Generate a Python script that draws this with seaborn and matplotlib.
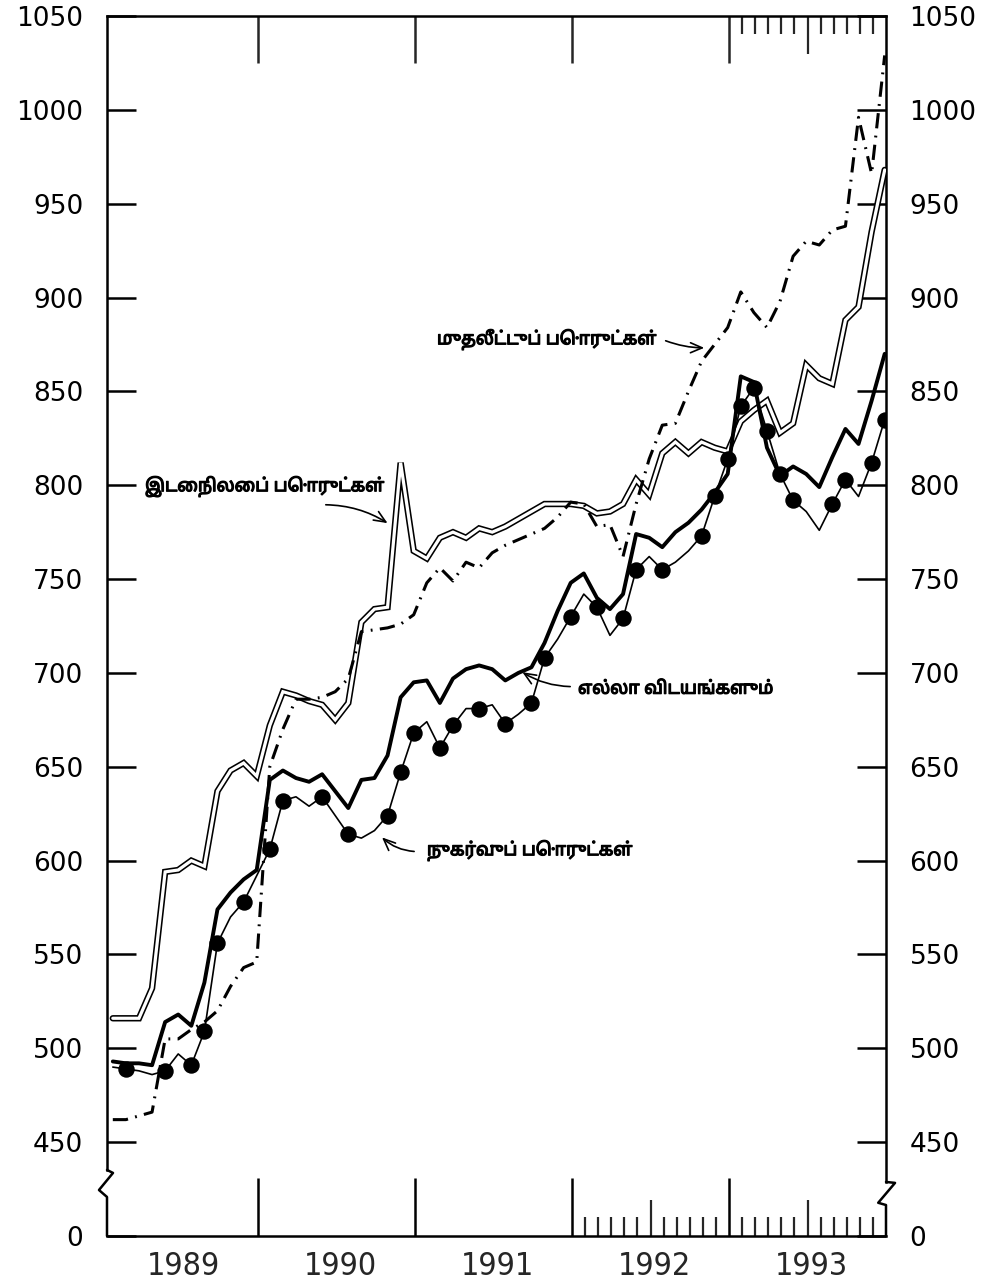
import numpy as np
import pandas as pd
import matplotlib
matplotlib.use("Agg")
import matplotlib.pyplot as plt
import matplotlib.transforms as mtransforms
import matplotlib.patheffects as pe
import seaborn as sns

# ---------------- data ----------------
start_year = 1989
n_months = 60
months = list(range(n_months))

all_items = [493, 492, 492, 491, 514, 518, 512, 535, 574, 583, 590, 595,
             643, 648, 644, 642, 646, 637, 628, 643, 644, 656, 687, 695,
             696, 684, 697, 702, 704, 702, 696, 700, 703, 716, 733, 748,
             753, 740, 734, 742, 774, 772, 767, 775, 780, 787, 796, 806,
             858, 855, 820, 805, 810, 806, 799, 815, 830, 822, 845, 870]

consumer = [490, 489, 488, 486, 488, 497, 491, 509, 556, 570, 578, 592,
            606, 632, 634, 629, 634, 624, 614, 612, 616, 624, 647, 668,
            674, 660, 672, 681, 681, 683, 673, 678, 684, 708, 718, 730,
            742, 735, 720, 729, 755, 762, 755, 759, 765, 773, 794, 814,
            842, 852, 829, 806, 792, 786, 776, 790, 803, 794, 812, 835]

intermediate = [516, 516, 516, 532, 594, 595, 600, 597, 637, 648, 652, 645,
                672, 690, 688, 685, 683, 675, 684, 727, 734, 735, 812, 765,
                761, 772, 775, 772, 777, 775, 778, 782, 786, 790, 790, 790,
                789, 785, 786, 790, 803, 795, 817, 823, 817, 823, 820, 818,
                834, 840, 845, 828, 833, 864, 857, 854, 888, 895, 935, 968]

investment = [462, 462, 464, 466, 505, 505, 510, 514, 520, 533, 543, 546,
              650, 670, 686, 686, 687, 690, 697, 722, 723, 724, 726, 731,
              748, 756, 749, 759, 756, 764, 768, 771, 774, 777, 783, 791,
              790, 778, 779, 762, 790, 814, 832, 833, 850, 866, 875, 884,
              903, 892, 884, 898, 922, 930, 928, 936, 938, 996, 966, 1029]

consumer_dot_months = [1, 4, 6, 7, 8, 10, 12, 13, 16, 18, 21, 22, 23, 25, 26,
                       28, 30, 32, 33, 35, 37, 39, 40, 42, 45, 46, 47, 48, 49,
                       50, 51, 52, 55, 56, 58, 59]

year_labels = ["1989", "1990", "1991", "1992", "1993"]
y_ticks = [400, 450, 500, 550, 600, 650, 700, 750, 800, 850, 900, 950, 1000, 1050]
y_tick_labels = ["0", "450", "500", "550", "600", "650", "700", "750", "800",
                 "850", "900", "950", "1000", "1050"]

label_intermediate = "இடைநிலைப் பொருட்கள்"
label_investment = "முதலீட்டுப் பொருட்கள்"
label_all = "எல்லா விடயங்களும்"
label_consumer = "நுகர்வுப் பொருட்கள்"

# ---------------- style ----------------
sns.set_theme(style="white")
plt.rcParams["font.family"] = ["DejaVu Sans"]
tamil_family = ["Noto Sans Tamil", "DejaVu Sans"]

df = pd.DataFrame({
    "month": months,
    "t": [start_year + (m + 0.9) / 12 for m in months],
    "all": all_items,
    "cons": consumer,
    "inter": intermediate,
    "inv": investment,
})

fig = plt.figure(figsize=(9.96, 12.88), dpi=100)
fig.patch.set_facecolor("white")
ax = fig.add_axes([107 / 996, 1 - 1236 / 1288, (886 - 107) / 996, (1236 - 16) / 1288])
ax.set_facecolor("white")

# intermediate goods: double line
sns.lineplot(data=df, x="t", y="inter", ax=ax, color="black", linewidth=4.6,
             solid_joinstyle="miter", zorder=3)
sns.lineplot(data=df, x="t", y="inter", ax=ax, color="white", linewidth=2.3,
             solid_joinstyle="miter", zorder=3.1)
# investment goods: dash-dot
sns.lineplot(data=df, x="t", y="inv", ax=ax, color="black", linewidth=2.2,
             linestyle=(0, (5, 2.4, 0.6, 2.4)), zorder=4)
# consumer goods: thin line with dots
sns.lineplot(data=df, x="t", y="cons", ax=ax, color="black", linewidth=1.2, zorder=5)
sns.scatterplot(data=df.iloc[consumer_dot_months], x="t", y="cons", ax=ax,
                color="black", s=140, edgecolor="black", linewidth=0, zorder=6)
# all items: thick line
sns.lineplot(data=df, x="t", y="all", ax=ax, color="black", linewidth=2.8, zorder=5.5)

ax.set_xlim(1989.038, 1994.0)
ax.set_ylim(400, 1050)
ax.set_xlabel("")
ax.set_ylabel("")

# spines with axis-break zigzags
for s in ax.spines.values():
    s.set_color("black")
    s.set_linewidth(1.8)
ax.spines["left"].set_bounds(435.2, 1050)
ax.spines["right"].set_bounds(428.8, 1050)

trans = mtransforms.blended_transform_factory(ax.transAxes, ax.transData)
ax.plot([0, 0.0077, -0.0103, 0, 0], [435.2, 433.6, 424.5, 420.8, 400],
        transform=trans, color="black", lw=1.8, clip_on=False, zorder=10)
ax.plot([1, 1.0116, 0.99, 1, 1], [428.8, 428.3, 417.7, 416.5, 400],
        transform=trans, color="black", lw=1.8, clip_on=False, zorder=10)

# y ticks
ax.set_yticks(y_ticks)
ax.set_yticklabels(y_tick_labels)
ax.tick_params(axis="y", which="major", direction="in", length=21, width=1.8,
               labelsize=19, pad=17, left=True, right=True,
               labelleft=True, labelright=True, colors="black")
ax.yaxis.set_minor_locator(matplotlib.ticker.NullLocator())

# x ticks bottom
year_bounds = [1990, 1991, 1992, 1993]
minor_bottom = [1992 + k / 12 for k in range(1, 24) if k not in (6, 12, 18)]
ax.set_xticks(year_bounds)
ax.set_xticks(minor_bottom, minor=True)
ax.tick_params(axis="x", which="major", direction="in", length=42, width=1.8,
               bottom=True, top=False, labelbottom=False, colors="black")
ax.tick_params(axis="x", which="minor", direction="in", length=14, width=1.6,
               bottom=True, top=False)

sec_mid = ax.secondary_xaxis("bottom")
sec_mid.set_xticks([1992.5, 1993.5])
sec_mid.tick_params(direction="in", length=26, width=1.6, labelbottom=False)
sec_mid.spines["bottom"].set_visible(False)

sec_lab = ax.secondary_xaxis("bottom")
sec_lab.set_xticks([y + 0.525 for y in range(1989, 1994)])
sec_lab.set_xticklabels(year_labels)
sec_lab.tick_params(length=0, pad=11, labelsize=23)
for lab in sec_lab.get_xticklabels():
    lab.set_fontstretch("condensed")
sec_lab.spines["bottom"].set_visible(False)

# top ticks
sec_top = ax.secondary_xaxis("top")
sec_top.set_xticks(year_bounds)
sec_top.set_xticks([1993 + k / 12 for k in range(1, 12) if k != 6], minor=True)
sec_top.tick_params(which="major", direction="in", length=34, width=1.8, labeltop=False)
sec_top.tick_params(which="minor", direction="in", length=13, width=1.6)
sec_top.spines["top"].set_visible(False)

sec_top2 = ax.secondary_xaxis("top")
sec_top2.set_xticks([1993.5])
sec_top2.tick_params(direction="in", length=27, width=1.6, labeltop=False)
sec_top2.spines["top"].set_visible(False)

# annotations
tkw = dict(fontsize=12.8, fontweight="bold", family=tamil_family, va="center",
           ha="left", color="black", zorder=12,
           path_effects=[pe.withStroke(linewidth=0.9, foreground="black")])
akw = dict(arrowstyle="->,head_length=0.7,head_width=0.3", color="black", lw=1.2)

ax.text(1989.280, 799.2, label_intermediate, **tkw)
ax.annotate("", xy=(1990.84, 779), xytext=(1990.414, 789.6),
            arrowprops=dict(connectionstyle="arc3,rad=-0.15", **akw))

ax.text(1991.14, 877.5, label_investment, **tkw)
ax.annotate("", xy=(1992.86, 873.2), xytext=(1992.58, 877.5),
            arrowprops=dict(connectionstyle="arc3,rad=0.1", **akw))

ax.text(1992.038, 691.6, label_all, **tkw)
ax.annotate("", xy=(1991.669, 701.2), xytext=(1992.006, 692.7),
            arrowprops=dict(connectionstyle="arc3,rad=-0.15", **akw))

ax.text(1991.076, 605.4, label_consumer, **tkw)
ax.annotate("", xy=(1990.777, 613.4), xytext=(1991.012, 604.8),
            arrowprops=dict(connectionstyle="arc3,rad=-0.2", **akw))

fig.savefig("out.png", dpi=100, facecolor="white")
